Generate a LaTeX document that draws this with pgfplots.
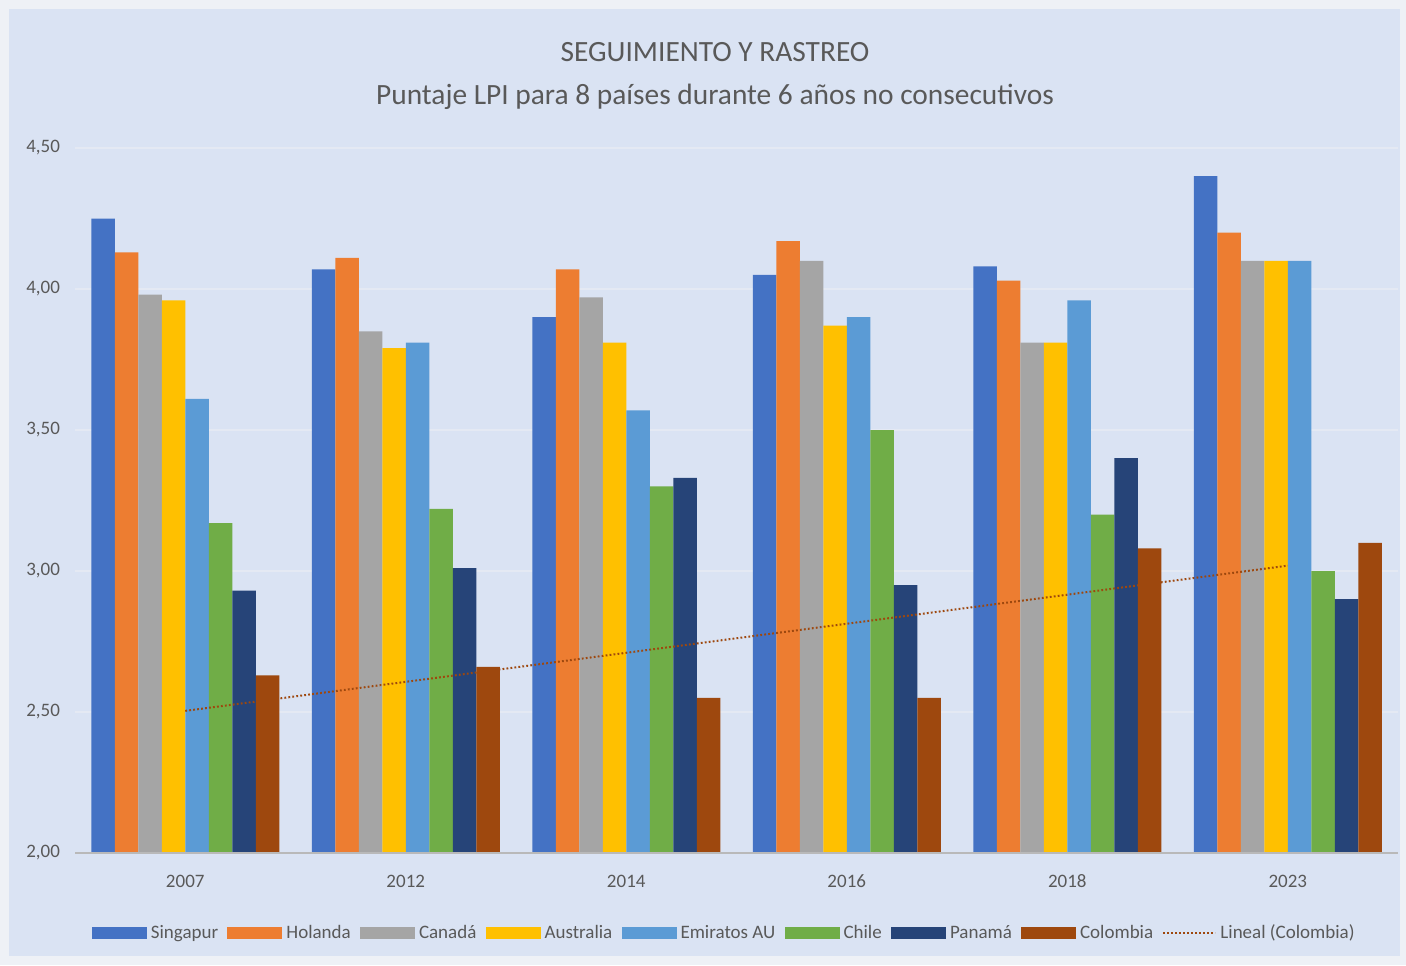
\documentclass[border=0pt]{standalone}
\usepackage{pgfplots}
\pgfplotsset{compat=1.18}
\usepackage{pgfplotstable}
\usepackage{fontspec}
\setmainfont{Carlito}
\definecolor{bg}{HTML}{DAE3F3}
\definecolor{frame}{HTML}{EEF1F6}
\definecolor{gridc}{HTML}{E4E9F3}
\definecolor{txt}{HTML}{595959}
\definecolor{cSing}{HTML}{4472C4}
\definecolor{cHol}{HTML}{ED7D31}
\definecolor{cCan}{HTML}{A5A5A5}
\definecolor{cAus}{HTML}{FFC000}
\definecolor{cEmi}{HTML}{5B9BD5}
\definecolor{cChi}{HTML}{70AD47}
\definecolor{cPan}{HTML}{264478}
\definecolor{cCol}{HTML}{9E480E}
\pgfplotsset{
  barleg/.style={legend image code/.code={\fill[##1] (0pt,-3pt) rectangle (27.5pt,3pt);}},
  lineleg/.style={legend image code/.code={\draw[##1] (0pt,0pt) -- (26pt,0pt);}},
}
\pgfplotstableread{
x Sing Hol Can Aus Emi Chi Pan Col
0 4.25 4.13 3.98 3.96 3.61 3.17 2.93 2.63
1 4.07 4.11 3.85 3.79 3.81 3.22 3.01 2.66
2 3.90 4.07 3.97 3.81 3.57 3.30 3.33 2.55
3 4.05 4.17 4.10 3.87 3.90 3.50 2.95 2.55
4 4.08 4.03 3.81 3.81 3.96 3.20 3.40 3.08
5 4.40 4.20 4.10 4.10 4.10 3.00 2.90 3.10
}\data
\pgfplotstableread{
x y
0 2.504
5 3.019
}\trend
\begin{document}
\begin{tikzpicture}[x=1pt,y=1pt]
\fill[frame] (-37.5,-56) rectangle (665.5,426.5);
\fill[bg] (-33,-51.5) rectangle (662.5,422);
\begin{axis}[
  at={(0,0)}, anchor=south west,
  scale only axis, width=661.5pt, height=352.5pt,
  ybar=0pt, bar width=11.75pt,
  xmin=-0.5, xmax=5.5, ymin=2, ymax=4.5,
  xtick=data, xticklabels={2007,2012,2014,2016,2018,2023},
  ytick={2,2.5,3,3.5,4,4.5},
  xmajorgrids=false, ymajorgrids=true,
  major grid style={draw=gridc, line width=0.8pt},
  axis line style={draw=none},
  major tick length=0pt,
  axis x line*=bottom, axis y line*=left,
  tick label style={font=\fontsize{9.5}{11}\selectfont, text=txt},
  /pgf/number format/assume math mode=true,
  /pgf/number format/.cd, use comma, fixed, fixed zerofill, precision=2,
  /pgfplots/.cd,
  yticklabel style={xshift=-4pt},
  xticklabel style={yshift=-6pt, text height=1.6ex, text depth=0pt},
  legend columns=9,
  legend style={at={(0.4915,0)}, anchor=center, yshift=-40pt, draw=none, fill=none,
    font=\fontsize{9.5}{11}\selectfont, text=txt,
    /tikz/every even column/.append style={column sep=2.6pt},
    inner sep=0pt},
  barleg,
]
\addplot[fill=cSing, draw=none] table[x=x,y=Sing]{\data};
\addplot[fill=cHol, draw=none] table[x=x,y=Hol]{\data};
\addplot[fill=cCan, draw=none] table[x=x,y=Can]{\data};
\addplot[fill=cAus, draw=none] table[x=x,y=Aus]{\data};
\addplot[fill=cEmi, draw=none] table[x=x,y=Emi]{\data};
\addplot[fill=cChi, draw=none] table[x=x,y=Chi]{\data};
\addplot[fill=cPan, draw=none] table[x=x,y=Pan]{\data};
\addplot[fill=cCol, draw=none] table[x=x,y=Col]{\data};
\addplot[sharp plot, draw=cCol, line width=1pt, dash pattern=on 0.9pt off 1.1pt, lineleg] table[x=x,y=y]{\trend};
\draw[gray!55, line width=0.6pt] (axis cs:-0.5,2) -- (axis cs:5.5,2);
\legend{Singapur,Holanda,Canadá,Australia,Emiratos AU,Chile,Panamá,Colombia,Lineal (Colombia)}
\end{axis}
\node[text=txt, font=\fontsize{14.7}{18}\selectfont] at (320,400.5) {SEGUIMIENTO Y RASTREO};
\node[text=txt, font=\fontsize{14.7}{18}\selectfont] at (320,378) {Puntaje LPI para 8 países durante 6 años no consecutivos};
\end{tikzpicture}
\end{document}
